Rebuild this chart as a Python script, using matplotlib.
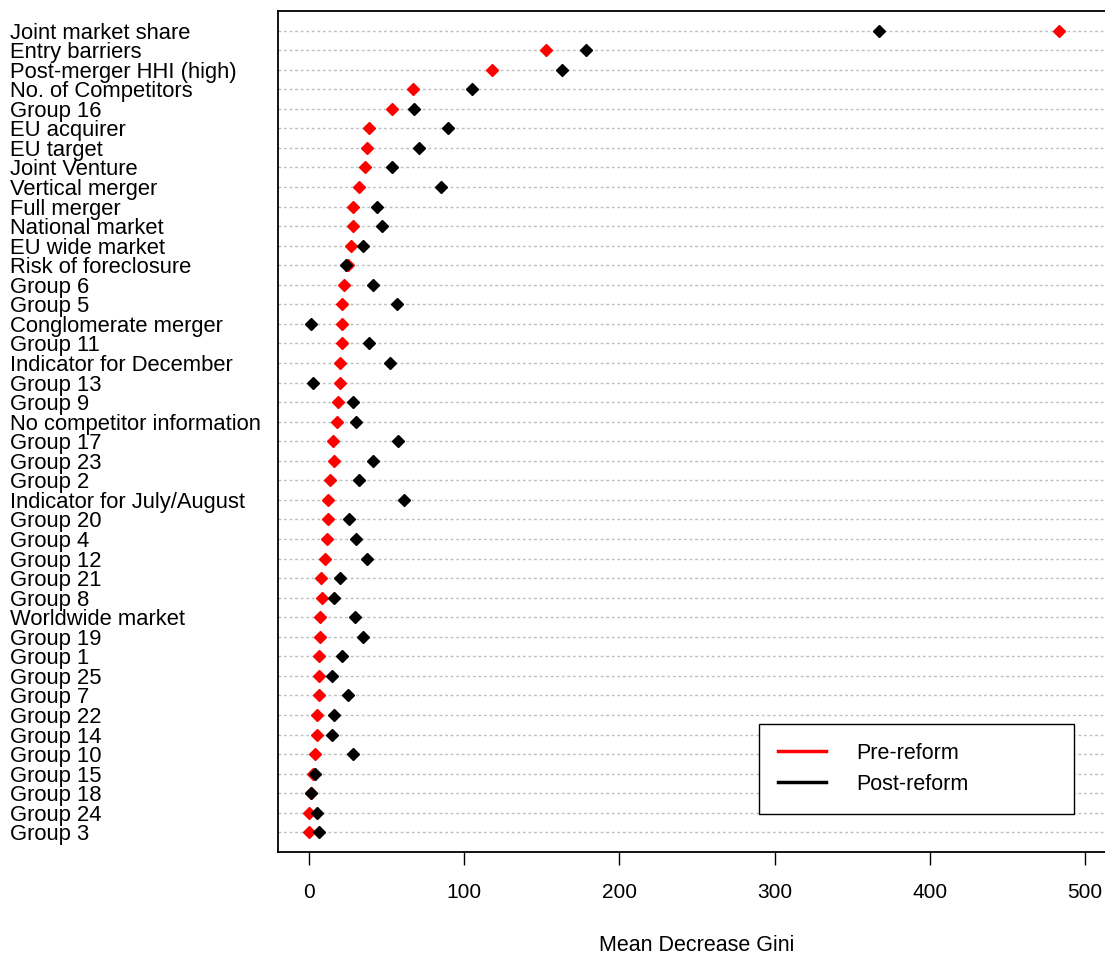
import matplotlib.pyplot as plt
import matplotlib.transforms as mtransforms
from matplotlib.lines import Line2D

# variables, top to bottom
variables = ["Joint market share", "Entry barriers", "Post-merger HHI (high)",
             "No. of Competitors", "Group 16", "EU acquirer", "EU target",
             "Joint Venture", "Vertical merger", "Full merger", "National market",
             "EU wide market", "Risk of foreclosure", "Group 6", "Group 5",
             "Conglomerate merger", "Group 11", "Indicator for December", "Group 13",
             "Group 9", "No competitor information", "Group 17", "Group 23", "Group 2",
             "Indicator for July/August", "Group 20", "Group 4", "Group 12", "Group 21",
             "Group 8", "Worldwide market", "Group 19", "Group 1", "Group 25", "Group 7",
             "Group 22", "Group 14", "Group 10", "Group 15", "Group 18", "Group 24",
             "Group 3"]

pre_reform = [483, 152.8, 118, 67, 53.5, 39, 37.7, 36, 32.5, 28.2, 28.6, 27, 25.2,
              22.6, 21.3, 21.3, 21.3, 20, 20, 19.1, 18.3, 15.7, 16.1, 13.5, 12.6,
              12.6, 11.8, 10.5, 8, 8.4, 7.1, 7.1, 6.3, 6.3, 6.3, 5.4, 5.4, 4.1, 2.8,
              1.5, 0.2, 0.2]

post_reform = [367, 178.6, 163, 105, 67.8, 90, 71, 53.5, 85.3, 44, 47, 35, 23.9,
               41.5, 56.6, 1.5, 39, 52.2, 2.8, 28.2, 30.3, 57.8, 41.5, 32.5, 61.3,
               25.6, 30.3, 37.2, 20.4, 16.1, 29.5, 35, 21.7, 14.8, 25.2, 16.1, 14.8,
               28.6, 4.1, 1.5, 5.4, 6.3]

xticks = [0, 100, 200, 300, 400, 500]

plt.rcParams['font.family'] = ['Liberation Sans', 'DejaVu Sans']

fig = plt.figure(figsize=(11.05, 9.55), dpi=100)
ax = fig.add_axes([0.2516, 0.1079, 0.7584, 0.8806])

n = len(variables)
ypos = [n - i for i in range(n)]

for y in ypos:
    ax.axhline(y, color='#bebebe', lw=1, linestyle=(0, (2, 2)), zorder=1)

ax.plot(pre_reform, ypos, 'D', color='red', markersize=6, linestyle='none', zorder=3)
ax.plot(post_reform, ypos, 'D', color='black', markersize=6, linestyle='none', zorder=4)

ax.set_xlim(-19.8, 520)
ax.set_ylim(0, n + 1)
ax.set_yticks([])
ax.set_xticks(xticks)
ax.tick_params(axis='x', length=9, width=1, pad=13, labelsize=15)
for sp in ax.spines.values():
    sp.set_linewidth(1.3)

# labels on the left edge of the figure, like R dotchart
trans = mtransforms.blended_transform_factory(fig.transFigure, ax.transData)
for lab, y in zip(variables, ypos):
    ax.text(10 / 1105, y, lab, transform=trans, ha='left',
            va='center_baseline', fontsize=15.8, clip_on=False)

ax.set_xlabel("Mean Decrease Gini", fontsize=15.5, labelpad=24)

handles = [Line2D([], [], color='red', lw=2.5), Line2D([], [], color='black', lw=2.5)]
leg = fig.legend(handles, ["Pre-reform", "Post-reform"], loc='lower left',
                 bbox_to_anchor=(0.6869, 0.1476, 0.2851, 0.0932), mode='expand',
                 borderaxespad=0, fontsize=15.5, handlelength=2.2, handletextpad=1.4,
                 borderpad=0.9, labelspacing=0.45, fancybox=False,
                 edgecolor='black', framealpha=1)
leg.get_frame().set_linewidth(1.0)

plt.savefig('out.png', dpi=100)
